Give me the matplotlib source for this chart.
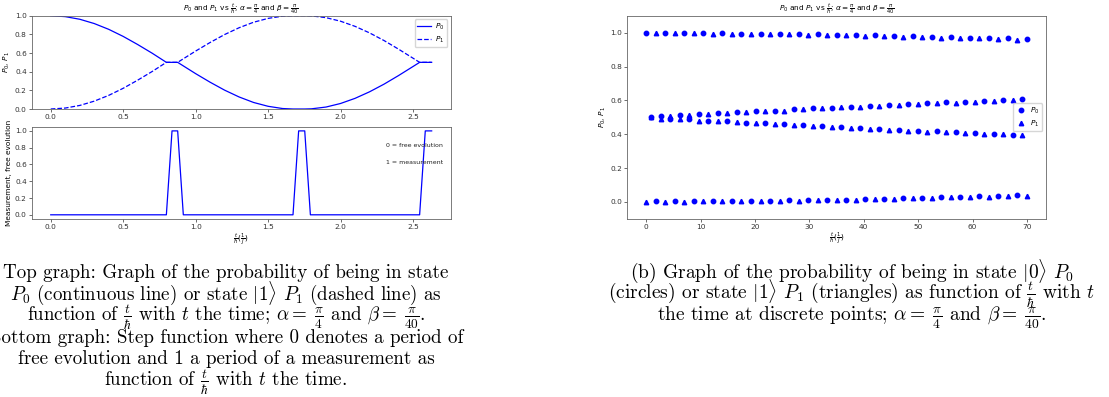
import matplotlib
matplotlib.use("Agg")
import matplotlib.pyplot as plt

plt.rcParams["mathtext.fontset"] = "dejavusans"

# ---------------- left: continuous evolution ----------------
t_cont = [0.0, 0.1, 0.2, 0.3, 0.4, 0.5, 0.6, 0.7, 0.798, 0.876, 1.0, 1.1, 1.2,
          1.3, 1.4, 1.5, 1.6, 1.672, 1.753, 1.8, 1.9, 2.0, 2.1, 2.2, 2.3, 2.4,
          2.5, 2.546, 2.629]
p0_cont = [1.000, 0.990, 0.962, 0.916, 0.854, 0.778, 0.691, 0.598, 0.500, 0.500,
           0.379, 0.287, 0.202, 0.129, 0.070, 0.029, 0.005, 0.000, 0.000, 0.002,
           0.021, 0.059, 0.114, 0.184, 0.266, 0.358, 0.455, 0.500, 0.500]
p1_cont = [0.000, 0.010, 0.038, 0.084, 0.146, 0.222, 0.309, 0.402, 0.500, 0.500,
           0.621, 0.713, 0.798, 0.871, 0.930, 0.971, 0.995, 1.000, 1.000, 0.998,
           0.979, 0.941, 0.886, 0.816, 0.734, 0.642, 0.545, 0.500, 0.500]

# measurement step function (0 = free evolution, 1 = measurement)
t_meas = [0.0, 0.798, 0.837, 0.876, 0.915, 1.672, 1.711, 1.753, 1.792,
          2.546, 2.585, 2.629]
meas = [0, 0, 1, 1, 0, 0, 1, 1, 0, 0, 1, 1]

# ---------------- right: discrete points ----------------
t_full = [0, 1.75, 3.5, 5.25, 7, 8.75, 10.5, 12.25, 14, 15.75, 17.5, 19.25, 21,
          22.75, 24.5, 26.25, 28, 29.75, 31.5, 33.25, 35, 36.75, 38.5, 40.25, 42,
          43.75, 45.5, 47.25, 49, 50.75, 52.5, 54.25, 56, 57.75, 59.5, 61.25, 63,
          64.75, 66.5, 68.25, 70]
p0_full = [1.000, 0.002, 0.999, 0.002, 0.999, 0.003, 0.998, 0.004, 0.997, 0.005,
           0.996, 0.006, 0.995, 0.007, 0.994, 0.008, 0.993, 0.010, 0.991, 0.012,
           0.990, 0.013, 0.988, 0.016, 0.985, 0.019, 0.982, 0.023, 0.979, 0.025,
           0.977, 0.028, 0.974, 0.030, 0.972, 0.032, 0.970, 0.035, 0.967, 0.042,
           0.963]
p1_full = [0.000, 0.998, 0.001, 0.998, 0.001, 0.997, 0.002, 0.996, 0.003, 0.995,
           0.004, 0.994, 0.005, 0.993, 0.006, 0.992, 0.007, 0.990, 0.009, 0.988,
           0.010, 0.987, 0.012, 0.984, 0.015, 0.981, 0.018, 0.977, 0.021, 0.975,
           0.023, 0.972, 0.026, 0.970, 0.028, 0.968, 0.030, 0.965, 0.033, 0.958,
           0.037]
t_half = [0.875, 2.625, 4.375, 6.125, 7.875, 9.625, 11.375, 13.125, 14.875,
          16.625, 18.375, 20.125, 21.875, 23.625, 25.375, 27.125, 28.875, 30.625,
          32.375, 34.125, 35.875, 37.625, 39.375, 41.125, 42.875, 44.625, 46.375,
          48.125, 49.875, 51.625, 53.375, 55.125, 56.875, 58.625, 60.375, 62.125,
          63.875, 65.625, 67.375, 69.125]
p0_half = [0.500, 0.507, 0.493, 0.512, 0.488, 0.520, 0.481, 0.524, 0.476, 0.530,
           0.469, 0.536, 0.464, 0.540, 0.460, 0.548, 0.453, 0.554, 0.447, 0.558,
           0.441, 0.562, 0.438, 0.568, 0.432, 0.576, 0.426, 0.581, 0.421, 0.584,
           0.417, 0.588, 0.413, 0.591, 0.407, 0.597, 0.404, 0.601, 0.398, 0.606]
p1_half = [0.500, 0.493, 0.507, 0.488, 0.512, 0.480, 0.519, 0.476, 0.524, 0.470,
           0.531, 0.464, 0.536, 0.460, 0.540, 0.452, 0.547, 0.446, 0.553, 0.442,
           0.559, 0.438, 0.562, 0.432, 0.568, 0.424, 0.574, 0.419, 0.579, 0.416,
           0.583, 0.412, 0.587, 0.409, 0.593, 0.403, 0.596, 0.399, 0.602, 0.394]

title_txt = r"$P_0$ and $P_1$ vs $\frac{t}{\hbar}$; $\alpha = \frac{\pi}{4}$ and $\beta = \frac{\pi}{40}$"
xlab_txt = r"$\frac{t}{\hbar}(\frac{1}{J})$"

FS = 5.3
W, H = 1109, 397
fig = plt.figure(figsize=(W / 100, H / 100), dpi=100)


def box(l, t, r, b):
    return [l / W, 1 - b / H, (r - l) / W, (b - t) / H]


def style(ax):
    ax.tick_params(labelsize=FS, length=2, width=0.5, pad=1.5, colors="#333333")
    for s in ax.spines.values():
        s.set_linewidth(0.6)
        s.set_color("#666666")


ax1 = fig.add_axes(box(31.7, 15.7, 450.7, 109))
ax1.plot(t_cont, p0_cont, color="blue", lw=0.9, label=r"$P_0$")
ax1.plot(t_cont, p1_cont, color="blue", lw=0.9, ls="--", label=r"$P_1$")
ax1.set_ylim(0, 1)
ax1.set_title(title_txt, fontsize=FS, pad=2)
ax1.set_ylabel(r"$P_0$, $P_1$", fontsize=FS, labelpad=2)
ax1.legend(loc="upper right", fontsize=FS, handlelength=1.8, borderpad=0.35,
           labelspacing=0.3, handletextpad=0.6, framealpha=0.8)
style(ax1)

ax2 = fig.add_axes(box(31.7, 126.7, 450.7, 219))
ax2.plot(t_meas, meas, color="blue", lw=0.9)
ax2.set_xlim(ax1.get_xlim())
ax2.set_ylabel("Measurement, free evolution", fontsize=FS, labelpad=2)
ax2.set_xlabel(xlab_txt, fontsize=FS, labelpad=1)
ax2.text(2.317, 0.825, "0 = free evolution", fontsize=4.5, va="center",
         color="#222222")
ax2.text(2.317, 0.627, "1 = measurement", fontsize=4.5, va="center",
         color="#222222")
style(ax2)

ax3 = fig.add_axes(box(627.3, 16, 1046, 218.7))
ax3.plot(t_full + t_half, p0_full + p0_half, "o", color="blue", ms=3.2,
         ls="none", label=r"$P_0$", zorder=3)
ax3.plot(t_full + t_half, p1_full + p1_half, "^", color="blue", ms=3.2,
         ls="none", label=r"$P_1$", zorder=2)
ax3.set_ylim(-0.1, 1.1)
ax3.set_title(title_txt, fontsize=FS, pad=2)
ax3.set_ylabel(r"$P_0$, $P_1$", fontsize=FS, labelpad=2)
ax3.set_xlabel(xlab_txt, fontsize=FS, labelpad=1)
ax3.legend(loc="center right", fontsize=FS, borderpad=0.35, labelspacing=0.35,
           handlelength=1.5, handletextpad=0.5, framealpha=0.8)
style(ax3)

# ---------------- captions ----------------
cap_kw = dict(fontsize=13.7, family="cmr10", ha="center", va="baseline",
              math_fontfamily="cm")
left_lines = [
    "Top graph: Graph of the probability of being in state",
    r"$P_0$ (continuous line) or state $|1\rangle$ $P_1$ (dashed line) as",
    r"function of $\frac{t}{\hbar}$ with $t$ the time; $\alpha =\;\frac{\pi}{4}$ and $\beta =\;\frac{\pi}{40}$.",
    "Bottom graph: Step function where 0 denotes a period of",
    "free evolution and 1 a period of a measurement as",
    r"function of $\frac{t}{\hbar}$ with $t$ the time.",
]
left_base = [278, 299.5, 321, 343, 364, 386]
for s, yb in zip(left_lines, left_base):
    fig.text(226 / W, 1 - yb / H, s, **cap_kw)

right_lines = [
    r"(b) Graph of the probability of being in state $|0\rangle$ $P_0$",
    r"(circles) or state $|1\rangle$ $P_1$ (triangles) as function of $\frac{t}{\hbar}$ with $t$",
    r"the time at discrete points; $\alpha =\;\frac{\pi}{4}$ and $\beta =\;\frac{\pi}{40}$.",
]
right_base = [278, 299.5, 321]
for s, yb in zip(right_lines, right_base):
    fig.text(852 / W, 1 - yb / H, s, **dict(cap_kw, fontsize=14.0))

fig.savefig("out.png", dpi=100)
